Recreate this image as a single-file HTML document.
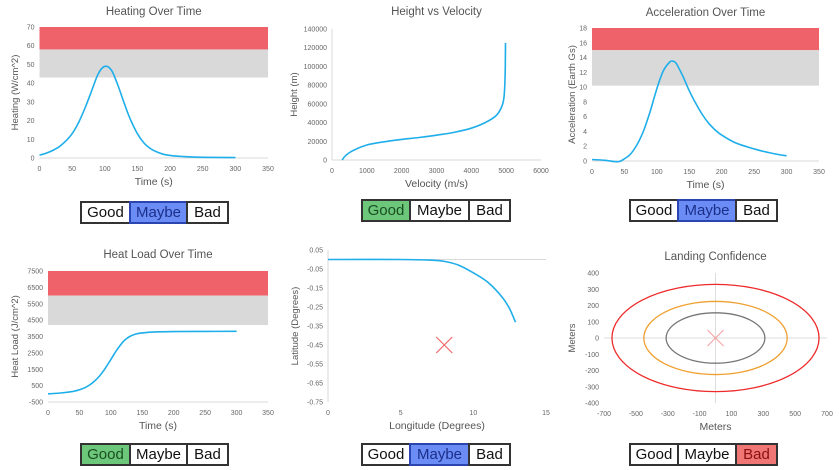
<!DOCTYPE html>
<html><head><meta charset="utf-8"><style>
body{margin:0;background:#fff;width:839px;height:470px;overflow:hidden;font-family:"Liberation Sans",sans-serif}
svg{position:absolute;left:0;top:0}
.btn{position:absolute;box-sizing:border-box;border:2px solid #333;background:#fff;font:15px "Liberation Sans",sans-serif;color:#111;text-align:center;line-height:19px;height:23px}
.g{background:#6cc77a;color:#1b4d22}.m{background:#6b8cf5;color:#1b2f8a;border-color:#2a45b0}.b{background:#f07575;color:#8a1010}
</style></head><body>
<svg id="s" width="839" height="470" xmlns="http://www.w3.org/2000/svg"></svg>
<script>
// ---- data ----
const heatT=[0,10,20,30,40,50,60,70,80,90,100,110,120,130,140,150,160,170,180,190,200,220,250,300];
const heatV=[1.5,2.5,4,6,9,13,19,27,36,45,49,47,39,29,20,13,8,5,3.2,2,1.4,0.8,0.4,0.2];
const velV=[290,400,600,1000,1500,2000,2500,3000,3500,4000,4400,4700,4850,4930,4960,4975,4980];
const velH=[0,5000,10000,16000,19500,22000,24000,26500,29500,34000,40000,47000,55000,65000,80000,100000,125000];
const accT=[0,20,40,50,60,70,80,90,100,110,120,125,130,140,150,160,170,180,190,200,220,240,260,280,300];
const accV=[0.2,0.1,-0.1,0.3,1,2.3,4.2,6.8,9.8,12.2,13.4,13.5,13.2,11.5,9.5,7.8,6.3,5.1,4.2,3.5,2.5,1.9,1.4,1.0,0.7];
const loadT=[0,20,40,50,60,70,80,90,100,110,120,130,140,150,170,200,250,300];
const loadV=[0,50,150,250,400,650,1000,1500,2100,2700,3200,3500,3650,3720,3780,3800,3810,3820];
const lonV=[0,5,7,8,9,10,11,12,12.5,12.9];
const latV=[0,0,-0.003,-0.01,-0.03,-0.07,-0.12,-0.2,-0.26,-0.33];
const landX=[8];const landY=[-0.45];
const ellRx=[650,450,310];const ellRy=[330,225,155];const ellColors=["#ee2a2a","#f0a030","#777"];
const heatTicksY=[0,10,20,30,40,50,60,70];const timeTicks=[0,50,100,150,200,250,300,350];
const velTicksX=[0,1000,2000,3000,4000,5000,6000];const hTicksY=[0,20000,40000,60000,80000,100000,120000,140000];
const accTicksY=[0,2,4,6,8,10,12,14,16,18];
const loadTicksY=[-500,500,1500,2500,3500,4500,5500,6500,7500];
const lonTicks=[0,5,10,15];const latTicks=[0.05,-0.05,-0.15,-0.25,-0.35,-0.45,-0.55,-0.65,-0.75];
const landTicksX=[-700,-500,-300,-100,100,300,500,700];const landTicksY=[400,300,200,100,0,-100,-200,-300,-400];

const S=document.getElementById('s');const NS="http://www.w3.org/2000/svg";
function el(t,a,name){const e=document.createElementNS(NS,t);for(const k in a)e.setAttribute(k,a[k]);


S.appendChild(e);return e;}
function txt(x,y,s,sz,name,anchor,rot){const e=el('text',{x:x,y:y,'font-size':sz,fill:sz>9?'#555':'#666','text-anchor':anchor||'middle','font-family':'Liberation Sans, sans-serif'},name);
if(rot)e.setAttribute('transform','rotate(-90 '+x+' '+y+')');e.textContent=s;return e;}
function lin(d0,d1,p0,p1){return v=>p0+(v-d0)/(d1-d0)*(p1-p0);}
function smooth(p){let d='M'+p[0][0].toFixed(1)+','+p[0][1].toFixed(1);
 for(let i=0;i<p.length-1;i++){const a=p[Math.max(i-1,0)],b=p[i],c=p[i+1],e=p[Math.min(i+2,p.length-1)];
 const c1=[b[0]+(c[0]-a[0])/6,b[1]+(c[1]-a[1])/6],c2=[c[0]-(e[0]-b[0])/6,c[1]-(e[1]-b[1])/6];
 d+='C'+c1.map(v=>v.toFixed(1))+' '+c2.map(v=>v.toFixed(1))+' '+c[0].toFixed(1)+','+c[1].toFixed(1);}
 return d;}
function chart(c){
 const X=lin(c.xd[0],c.xd[1],c.xp[0],c.xp[1]),Y=lin(c.yd[0],c.yd[1],c.yp[0],c.yp[1]);
 if(c.title)txt((c.xp[0]+c.xp[1])/2,c.ty,c.title,11.5,'chart-title');
 (c.bands||[]).forEach(b=>el('rect',{x:c.xp[0],y:Y(b[1]),width:c.xp[1]-c.xp[0],height:Y(b[0])-Y(b[1]),fill:b[2]},'threshold-band'));
 c.yt.forEach(v=>txt(c.xp[0]-5,Y(v)+2.5,String(v),7,'y-tick-label','end'));
 c.xt.forEach(v=>txt(X(v),c.yp[0]+13,String(v),7,'x-tick-label'));
 if(c.baseline!==undefined)el('line',{x1:c.xp[0],x2:c.xp[1],y1:Y(c.baseline),y2:Y(c.baseline),stroke:'#d9d9d9','stroke-width':1},'x-axis-line');
 if(c.vaxis)el('line',{x1:c.xp[0],x2:c.xp[0],y1:c.yp[1],y2:c.yp[0],stroke:'#d9d9d9','stroke-width':1},'y-axis-line');
 txt((c.xp[0]+c.xp[1])/2,c.yp[0]+27,c.xl,10.5,'x-axis-title');
 txt(c.ylx,(c.yp[0]+c.yp[1])/2,c.yl,9.5,'y-axis-title','middle',true);
 if(c.xs){const pts=c.xs.map((v,i)=>[X(v),Y(c.ys[i])]);
 el('path',{d:smooth(pts),fill:'none',stroke:'#1eaeea','stroke-width':1.6,'stroke-linejoin':'round'},'data-line');}
 return [X,Y];
}
chart({title:'Heating Over Time',ty:15,xp:[39.5,268],yp:[158,27],xd:[0,350],yd:[0,70],bands:[[58,70,'#f0626a'],[43,58,'#d9d9d9']],yt:heatTicksY,xt:timeTicks,baseline:0,xl:'Time (s)',yl:'Heating (W/cm^2)',ylx:18,xs:heatT,ys:heatV});
chart({title:'Height vs Velocity',ty:15,xp:[332,541],yp:[160,29],xd:[0,6000],yd:[0,140000],yt:hTicksY,xt:velTicksX,baseline:0,vaxis:true,xl:'Velocity (m/s)',yl:'Height (m)',ylx:297,xs:velV,ys:velH});
chart({title:'Acceleration Over Time',ty:16,xp:[592,819],yp:[161,28],xd:[0,350],yd:[0,18],bands:[[15,18,'#f0626a'],[10.2,15,'#d9d9d9']],yt:accTicksY,xt:timeTicks,baseline:0,xl:'Time (s)',yl:'Acceleration (Earth Gs)',ylx:575,xs:accT,ys:accV});
chart({title:'Heat Load Over Time',ty:258,xp:[48,268],yp:[402,271],xd:[0,350],yd:[-500,7500],bands:[[6000,7500,'#f0626a'],[4200,6000,'#d9d9d9']],yt:loadTicksY,xt:timeTicks,baseline:-500,xl:'Time (s)',yl:'Heat Load (J/cm^2)',ylx:18,xs:loadT,ys:loadV});
const c5=chart({title:'',ty:-20,xp:[328,546],yp:[402,250],xd:[0,15],yd:[-0.75,0.05],yt:latTicks,xt:lonTicks,baseline:0,vaxis:true,xl:'Longitude (Degrees)',yl:'Latitude (Degrees)',ylx:298,xs:lonV,ys:latV});
landX.forEach((v,i)=>{const x=c5[0](v),y=c5[1](landY[i]);
 el('path',{d:`M${x-8},${y-8}L${x+8},${y+8}M${x+8},${y-8}L${x-8},${y+8}`,stroke:'#f06a6a','stroke-width':1.2},'target-marker');});
const c6=chart({title:'Landing Confidence',ty:260,xp:[604,827],yp:[403,273],xd:[-700,700],yd:[-400,400],yt:landTicksY,xt:landTicksX,xl:'Meters',yl:'Meters',ylx:575});
el('line',{x1:604,x2:827,y1:c6[1](0),y2:c6[1](0),stroke:'#ddd'},'x-zero-line');
el('line',{x1:c6[0](0),x2:c6[0](0),y1:273,y2:403,stroke:'#ddd'},'y-zero-line');
ellRx.forEach((r,i)=>el('ellipse',{cx:c6[0](0),cy:c6[1](0),rx:c6[0](r)-c6[0](0),ry:c6[1](0)-c6[1](ellRy[i]),fill:'none',stroke:ellColors[i],'stroke-width':1.3},'confidence-ellipse'));
{const x=c6[0](0),y=c6[1](0);el('path',{d:`M${x-8},${y-8}L${x+8},${y+8}M${x+8},${y-8}L${x-8},${y+8}`,stroke:'#f5a0a0','stroke-width':1},'landing-marker');}
</script>
<div class="btn" style="left:80px;top:201px;width:51px">Good</div>
<div class="btn m" style="left:129px;top:201px;width:59px">Maybe</div>
<div class="btn" style="left:186px;top:201px;width:43px">Bad</div>
<div class="btn g" style="left:361px;top:199px;width:50px">Good</div>
<div class="btn" style="left:409px;top:199px;width:61px">Maybe</div>
<div class="btn" style="left:468px;top:199px;width:43px">Bad</div>
<div class="btn" style="left:629px;top:199px;width:50px">Good</div>
<div class="btn m" style="left:677px;top:199px;width:60px">Maybe</div>
<div class="btn" style="left:735px;top:199px;width:43px">Bad</div>
<div class="btn g" style="left:80px;top:443px;width:51px">Good</div>
<div class="btn" style="left:129px;top:443px;width:59px">Maybe</div>
<div class="btn" style="left:186px;top:443px;width:43px">Bad</div>
<div class="btn" style="left:361px;top:443px;width:50px">Good</div>
<div class="btn m" style="left:409px;top:443px;width:61px">Maybe</div>
<div class="btn" style="left:468px;top:443px;width:43px">Bad</div>
<div class="btn" style="left:629px;top:443px;width:50px">Good</div>
<div class="btn" style="left:677px;top:443px;width:60px">Maybe</div>
<div class="btn b" style="left:735px;top:443px;width:43px">Bad</div>
</body></html>
